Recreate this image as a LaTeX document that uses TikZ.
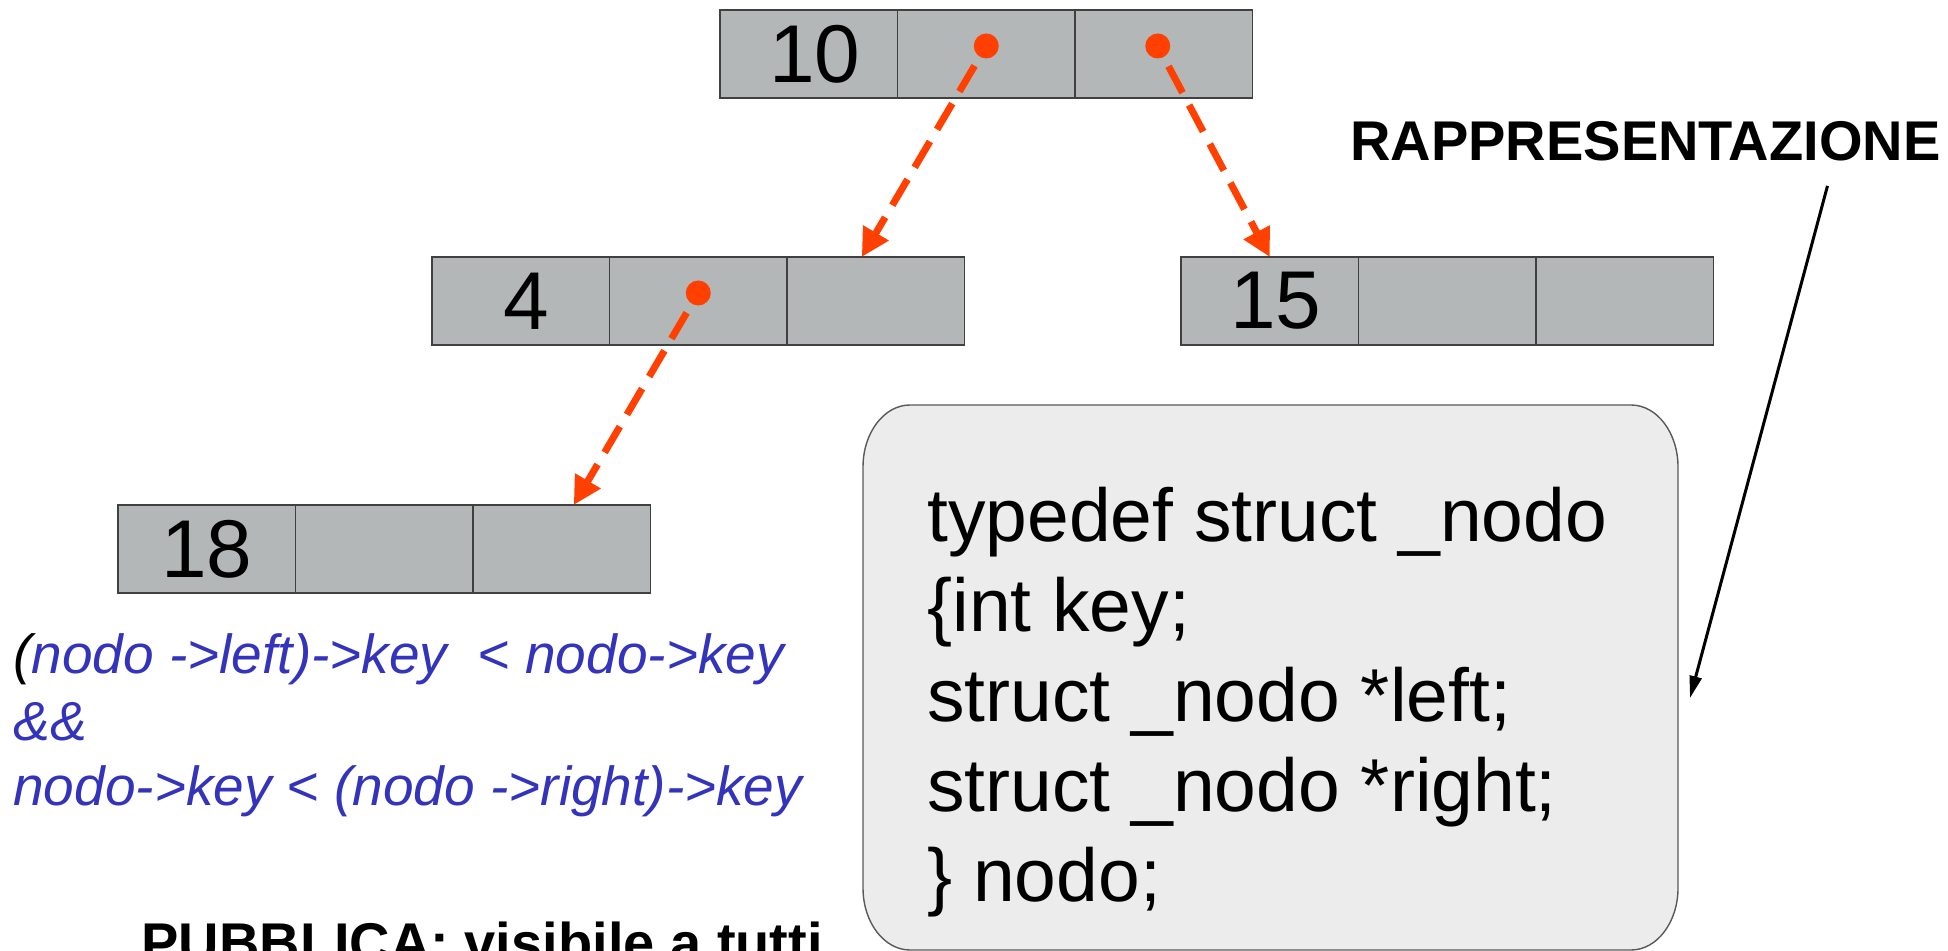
\documentclass[tikz,border=0pt]{standalone}
\usepackage{fontspec}
\usepackage{tikz}
\usepackage{xcolor}
\usetikzlibrary{positioning,arrows.meta}
\setmainfont{Liberation Sans}
\definecolor{cellgray}{RGB}{180,183,183}
\definecolor{ptrred}{RGB}{255,64,0}
\definecolor{condblue}{RGB}{51,51,187}
\definecolor{defgray}{RGB}{236,236,236}
\tikzset{
    record-cell/.style = {draw=black!75, fill=cellgray, line width=0.7pt, rectangle, minimum width=88.75pt, minimum height=44pt, inner sep=0pt, outer sep=0pt, font=\fontsize{41}{49}\selectfont},
    pointer-dot/.style = {circle, fill=ptrred, minimum size=12.5pt, inner sep=0pt},
    pointer-link/.style = {draw=ptrred, line width=3.5pt, dash pattern=on 15pt off 7pt, shorten <=5pt, -{Triangle[length=14pt, width=14pt]}},
    note-arrow/.style = {draw=black, line width=1.5pt, -{Triangle[length=11pt, width=6pt]}},
    def-box/.style = {draw=black!65, fill=defgray, line width=0.7pt},
    code-text/.style = {font=\fontsize{37.5}{45}\selectfont, align=left, inner sep=0pt, anchor=north west},
    cond-text/.style = {text=condblue, font=\fontsize{27.5}{33}\selectfont\itshape, inner sep=0pt, anchor=base west},
    label-text/.style = {font=\fontsize{28}{34}\selectfont\bfseries, inner sep=0pt, anchor=base west},
}
\begin{document}
\begin{tikzpicture}[x=0.5pt, y=-0.5pt]
\useasboundingbox (0,0) rectangle (1948,951);
\clip (0,0) rectangle (1948,951);

\node[record-cell] (a1) at (808.75,54) {\hspace*{6pt}10};
\node[record-cell, right=0pt of a1] (a2) {};
\node[record-cell, right=0pt of a2] (a3) {};

\node[record-cell] (b1) at (520.75,301) {\hspace*{6pt}4};
\node[record-cell, right=0pt of b1] (b2) {};
\node[record-cell, right=0pt of b2] (b3) {};

\node[record-cell] (c1) at (1269.75,301) {\hspace*{6pt}15};
\node[record-cell, right=0pt of c1] (c2) {};
\node[record-cell, right=0pt of c2] (c3) {};

\node[record-cell] (d1) at (206.75,549) {18};
\node[record-cell, right=0pt of d1] (d2) {};
\node[record-cell, right=0pt of d2] (d3) {};

\node[pointer-dot] (a2p) at ([yshift=4pt]a2.center) {};
\node[pointer-dot] (a3p) at ([xshift=-3pt,yshift=4pt]a3.center) {};
\node[pointer-dot] (b2p) at ([yshift=4pt]b2.center) {};

\draw[pointer-link] (a2p) -- ([xshift=-7pt]b3.north);
\draw[pointer-link] (a3p) -- (c1.north);
\draw[pointer-link] (b2p) -- ([xshift=6pt]d3.north);

\draw[def-box] (910,405) -- (1631,405)
    arc[start angle=90, end angle=0, x radius=23.5pt, y radius=31pt] -- (1678,888)
    arc[start angle=0, end angle=-90, x radius=23.5pt, y radius=31pt] -- (910,950)
    arc[start angle=270, end angle=180, x radius=23.5pt, y radius=31pt] -- (863,467)
    arc[start angle=180, end angle=90, x radius=23.5pt, y radius=31pt] -- cycle;
\node[code-text] (code) at (927,487) {typedef struct \_nodo\\\{int key;\\struct \_nodo *left;\\struct \_nodo *right;\\\} nodo;};

\node[cond-text] (cond1) at (13,673) {{\color{black}(}nodo ->left)->key\ \ < nodo->key};
\node[cond-text] (cond2) at (13,740) {\&\&};
\node[cond-text] (cond3) at (13,805) {nodo->key < (nodo ->right)->key};

\node[label-text] (rapp) at (1350,161) {RAPPRESENTAZIONE};
\node[label-text] (pub) at (141,962) {PUBBLICA: visibile a tutti};

\coordinate (rhead) at (1690,698);
\draw[note-arrow] ([xshift=91pt,yshift=-12pt]rapp.south) -- (rhead);
\end{tikzpicture}
\end{document}
